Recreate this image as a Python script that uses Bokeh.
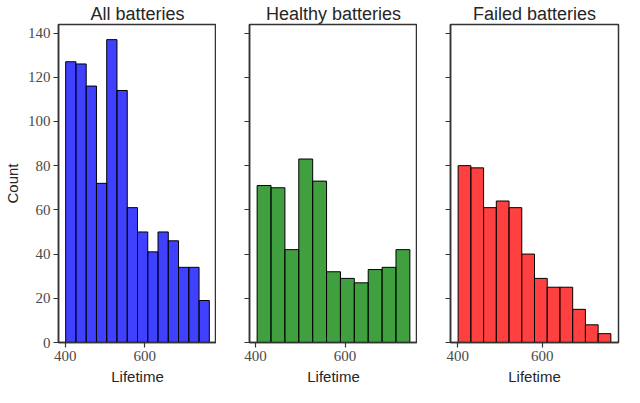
import numpy as np

from bokeh.plotting import figure
from bokeh.layouts import row
from bokeh.models import Range1d, FixedTicker
from bokeh.embed import file_html
from bokeh.resources import INLINE

# histogram counts
all_counts = [127, 126, 116, 72, 137, 114, 61, 50, 41, 50, 46, 34, 34, 19]
healthy_counts = [71, 70, 42, 83, 73, 32, 29, 27, 33, 34, 42]
failed_counts = [80, 79, 61, 64, 61, 40, 29, 25, 25, 15, 8, 4]

# lifetime min / max of each group (bin edges span these)
all_lims = [401, 762]
healthy_lims = [403.5, 744.6]
failed_lims = [401, 762]

titles = ['All batteries', 'Healthy batteries', 'Failed batteries']
colors = ['#0000ff', '#008000', '#ff0000']
x_ticks = [400, 600]
y_ticks = [0, 20, 40, 60, 80, 100, 120, 140]

FRAME_W = 168


def make_panel(counts, lims, title, color, first=False, last=False):
    edges = np.linspace(lims[0], lims[1], len(counts) + 1)
    pad = 0.05 * (lims[1] - lims[0])
    ymax = 1.05 * max(all_counts + healthy_counts + failed_counts)

    left = 48 if first else 33
    right = 2 if last else 0
    p = figure(width=FRAME_W + left + right, height=387,
               min_border_left=left, min_border_right=right,
               min_border_top=20, min_border_bottom=37,
               x_range=Range1d(lims[0] - pad, lims[1] + pad),
               y_range=Range1d(0, ymax),
               title=title,
               output_backend="svg", toolbar_location=None)

    p.quad(left=edges[:-1], right=edges[1:], bottom=0, top=counts,
           fill_color=color, fill_alpha=0.75,
           line_color='black', line_width=1)

    p.title.align = 'center'
    p.title.text_font = 'Liberation Sans'
    p.title.text_font_size = '18px'
    p.title.text_font_style = 'normal'
    p.title.text_color = '#262626'
    p.title.standoff = 2

    p.xgrid.visible = False
    p.ygrid.visible = False
    p.outline_line_color = '#333333'
    p.outline_line_width = 1.5
    p.outline_line_alpha = 1

    for ax in (p.xaxis[0], p.yaxis[0]):
        ax.axis_line_color = '#333333'
        ax.axis_line_width = 1.5
        ax.major_tick_line_color = '#333333'
        ax.major_tick_line_width = 1.2
        ax.major_tick_out = 5
        ax.major_tick_in = 0
        ax.minor_tick_out = 0
        ax.minor_tick_in = 0
        ax.major_label_text_font = 'Liberation Serif'
        ax.major_label_text_font_size = '15px'
        ax.major_label_text_color = '#4a4a4a'
        ax.major_label_standoff = 3
        ax.axis_label_text_font = 'Liberation Sans'
        ax.axis_label_text_font_size = '15px'
        ax.axis_label_text_font_style = 'normal'
        ax.axis_label_text_color = '#262626'
        ax.axis_label_standoff = 4

    p.xaxis.ticker = FixedTicker(ticks=x_ticks)
    p.yaxis.ticker = FixedTicker(ticks=y_ticks)
    p.xaxis.axis_label = 'Lifetime'
    if first:
        p.yaxis.axis_label = 'Count'
    else:
        # shared y axis: ticks only, no labels
        p.yaxis.major_label_overrides = {t: '' for t in y_ticks}
    return p


f1 = make_panel(all_counts, all_lims, titles[0], colors[0], first=True)
f2 = make_panel(healthy_counts, healthy_lims, titles[1], colors[1])
f3 = make_panel(failed_counts, failed_lims, titles[2], colors[2], last=True)

p = row(f1, f2, f3)
open("out.html", "w").write(file_html(p, INLINE))
